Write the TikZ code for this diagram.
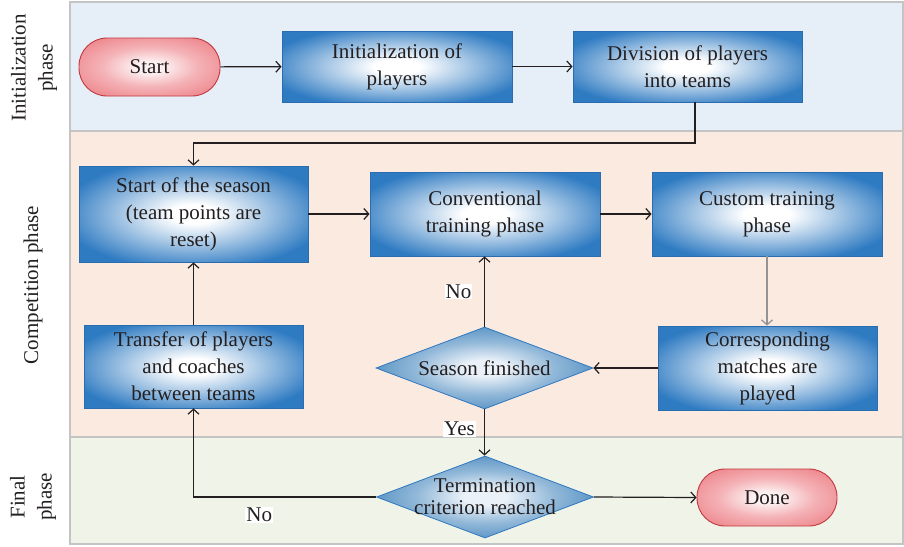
\documentclass[tikz,border=0pt]{standalone}
\usepackage{fontspec}
\setmainfont{Liberation Serif}
\usetikzlibrary{shapes.geometric,arrows.meta}
\definecolor{boxblue}{HTML}{2F7BC2}
\definecolor{boxborder}{HTML}{2A6CB0}
\definecolor{diablue}{HTML}{4A8ABF}
\definecolor{diaborder}{HTML}{2F78C0}
\definecolor{pillred}{HTML}{EE8A90}
\definecolor{pillborder}{HTML}{C0393F}
\definecolor{pillin}{HTML}{FDF0F1}
\definecolor{diain}{HTML}{EAF1F8}
\definecolor{txtgray}{HTML}{231F20}
\definecolor{laneA}{HTML}{E6EFF7}
\definecolor{laneB}{HTML}{FAEADF}
\definecolor{laneC}{HTML}{EFF3E8}
\definecolor{laneline}{HTML}{C4C4C4}
\pgfdeclareradialshading{boxglow}{\pgfpoint{0bp}{0bp}}{color(0bp)=(white); color(5bp)=(white); color(16bp)=(boxblue!45!white); color(29bp)=(boxblue); color(50bp)=(boxblue)}
\pgfdeclareradialshading{diaglow}{\pgfpoint{0bp}{0bp}}{color(0bp)=(diain); color(5bp)=(diain); color(16bp)=(diablue!55!diain); color(29bp)=(diablue); color(50bp)=(diablue)}
\pgfdeclareradialshading{pillglow}{\pgfpoint{0bp}{0bp}}{color(0bp)=(pillin); color(5bp)=(pillin); color(17bp)=(pillred!60!pillin); color(30bp)=(pillred); color(50bp)=(pillred)}
\begin{document}
\begin{tikzpicture}[x=1pt,y=-1pt,
  txt/.style={font=\fontsize{21}{27}\selectfont, text=txtgray, align=center, inner sep=0pt},
  box/.style={txt, rectangle, draw=boxborder, line width=0.8pt, shade, shading=boxglow},
  pill/.style={txt, rectangle, rounded corners=28pt, draw=pillborder, line width=0.9pt, shade, shading=pillglow},
  dia/.style={diamond, draw=diaborder, line width=0.8pt, shade, shading=diaglow, inner sep=0pt, minimum width=217pt, minimum height=82pt},
  arr/.style={draw=txtgray, line width=1.2pt, -{Straight Barb[length=5pt,width=11pt]}},
  arrgray/.style={arr, draw=gray!85},
  lbl/.style={txt, fill=white, inner sep=1pt},
  lanelab/.style={txt, rotate=90}]
\useasboundingbox (0,0) rectangle (904,546);
% lanes
\fill[laneA] (70,2) rectangle (903,131);
\fill[laneB] (70,131) rectangle (903,437);
\fill[laneC] (70,437) rectangle (903,544);
\draw[laneline, line width=1.5pt] (70,2) rectangle (903,544);
\draw[laneline, line width=1.5pt] (70,131) -- (903,131);
\draw[laneline, line width=1.5pt] (70,437) -- (903,437);
% lane labels
\node[lanelab] (l1) at (34,68) {Initialization\\phase};
\node[lanelab] (l2) at (33,285) {Competition phase};
\node[lanelab] (l3) at (33,497) {Final\\phase};
% nodes
\node[pill, minimum width=141pt, minimum height=58pt] (start) at (149.5,67) {Start};
\node[box, minimum width=230pt, minimum height=71pt] (init) at (397,66.5) {Initialization of\\players};
\node[box, minimum width=229pt, minimum height=71pt] (div) at (687.5,66.5) {Division of players\\into teams};
\node[box, minimum width=229pt, minimum height=96pt] (sos) at (193.5,214) {Start of the season\\(team points are\\reset)};
\node[box, minimum width=230pt, minimum height=84pt] (conv) at (485,214) {Conventional\\training phase};
\node[box, minimum width=230pt, minimum height=84pt] (cust) at (767,214) {Custom training\\phase};
\node[box, minimum width=219pt, minimum height=83pt] (trans) at (193.5,366.5) {Transfer of players\\and coaches\\between teams};
\node[box, minimum width=219pt, minimum height=84pt] (match) at (767.5,368) {Corresponding\\matches are\\played};
\node[dia] (sf) at (484.5,368) {};
\node[txt] (sft) at (sf) {Season finished};
\node[dia] (term) at (485,497) {};
\node[txt, font=\fontsize{21}{22}\selectfont] (termt) at (term) {Termination\\criterion reached};
\node[pill, minimum width=140pt, minimum height=57pt] (done) at (767,497.5) {Done};
\coordinate (bend) at (193.5,143);
% connectors
\draw[arr] (start) -- (init);
\draw[arr] (init) -- (div);
\draw[arr] ([xshift=7.5pt]div.south) |- (bend) -- (sos.north);
\draw[arr] (sos) -- (conv);
\draw[arr] (conv) -- (cust);
\draw[arrgray] (cust.south) -- (cust.south |- match.north);
\draw[arr] (match.west) -- (sf.east);
\draw[arr] (sf.north) -- node[lbl, xshift=-26pt] {No} (sf.north |- conv.south);
\draw[arr] (sf.south) -- node[lbl, pos=0.42, xshift=-25pt] {Yes} (sf.south |- term.north);
\draw[arr] (term.east) -- (done.west);
\draw[arr] (term.west) -| node[lbl, pos=0.32, yshift=-18pt] {No} (trans.south);
\draw[arr] (trans.north) -- (sos.south);
\end{tikzpicture}
\end{document}
